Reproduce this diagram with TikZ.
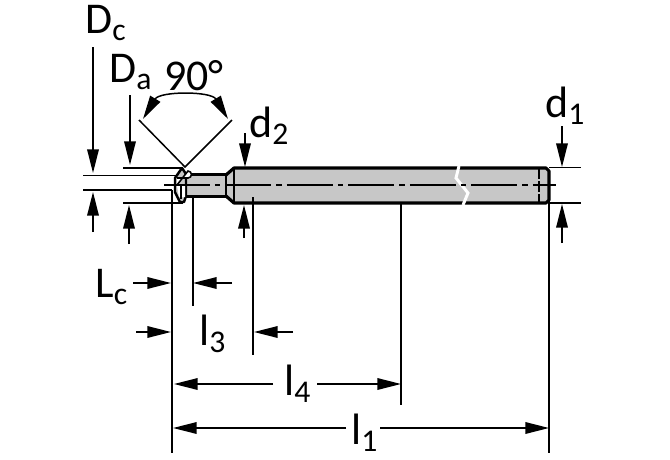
\documentclass[tikz,border=0pt]{standalone}
\usepackage{fontspec}
\setmainfont{Carlito}
\usetikzlibrary{arrows.meta}
\newcommand{\dimsub}[2]{#1\raisebox{-4pt}{\fontsize{18}{18}\selectfont #2}}
\tikzset{
    dimline/.style = {black, line width = 0.85pt},
    dimarrow/.style = {black, line width = 0.85pt, -{Triangle[length = 13.5pt, width = 6.6pt]}},
    outline/.style = {black, line width = 1.8pt, line join = round},
    dimlabel/.style = {font = \fontsize{25}{25}\selectfont, inner sep = 0pt, anchor = base west}
}
\begin{document}
\begin{tikzpicture}[x=0.02cm, y=-0.02cm]
            \useasboundingbox (0,0) rectangle (670,460);

            % shank and neck
            \fill[black!22] (183,175) -- (226,175) -- (234,168) -- (549,168) -- (549,203) -- (234,203) -- (226,196) -- (183,196) -- cycle;
            \draw[outline] (226,175) -- (234,168) -- (546,168) -- (549,171) -- (549,200) -- (546,203) -- (234,203) -- (226,196);
            \draw[outline, line width = 1.5pt] (185,174.5) -- (226,174.5) -- (226,196.5) -- (185,196.5);
            \draw[line width = 1.2pt] (234,168) -- (234,203);

            % break in the shank
            \draw[white, line width = 1.7pt] (459,166) -- (456,178) -- (468,193) -- (463,205);
            \draw[dimline, dash pattern = on 6pt off 1.5pt] (539,168) -- (539,204);

            % cutting head
            \draw[outline, line width = 1.4pt, fill = black!22] (182,168) -- (186,174) -- (186,196) -- (184,202) -- (180,202) -- (175,192) -- (175,178) -- cycle;
            \fill[white] (177,178) -- (188,178) arc (90:-90:3.5) -- (177,185) -- cycle;
            \draw[line width = 0.9pt] (177,178) -- (188,178) arc (90:-90:3.5) -- (177,185);
            \fill[white] (177,186) -- (185,186) -- (185,197) -- (179,197) -- cycle;
            \draw[line width = 0.9pt] (181,186) -- (181,199);

            % center line
            \draw[dimline, dash pattern = on 26pt off 3pt on 3pt off 3pt] (164,185) -- (556,185);

            % extension lines
            \foreach \xa/\ya/\xb/\yb in {83/175.5/176/175.5, 83/190/172/190, 123/168/183/168, 123/203/183/203,
                                         549/167.5/581/167.5, 549/203/581/203, 172/190/172/453, 193/196/193/306,
                                         253/197/253/355, 401/203/401/405, 549/200/549/453}{
                \draw[dimline] (\xa,\ya) -- (\xb,\yb);
            }

            % 90 degree angle
            \coordinate (apex) at (185,167);
            \coordinate (angleleft) at (139,120);
            \coordinate (angleright) at (232,120);
            \coordinate (arcleft) at (143,119);
            \coordinate (arcright) at (228,119);
            \draw[dimline] (angleleft) -- (apex) -- (angleright);
            \draw[dimline, {Triangle[length = 13.5pt, width = 6.6pt]}-{Triangle[length = 13.5pt, width = 6.6pt]}] (arcleft) .. controls (160,91) and (211,91) .. (arcright);

            % arrows pointing at the lines
            \foreach \xa/\ya/\xb/\yb in {93/47/93/173, 93/232/93/192, 130/95/130/165, 129/244/129/205,
                                         245/133/245/167, 244/238/244/205, 562/126/562/167, 562/243/562/204,
                                         133/283/171/283, 232/283/193/283, 136/332/171/332, 293/332/254/332}{
                \draw[dimarrow] (\xa,\ya) -- (\xb,\yb);
            }

            % labels
            \node[dimlabel] (Dc) at (85,33) {\dimsub{D}{c}};
            \node[dimlabel] (Da) at (109,82) {\dimsub{D}{a}};
            \node[dimlabel] (angle) at (164,90) {90°};
            \node[dimlabel] (dtwo) at (249,137) {\dimsub{d}{2}};
            \node[dimlabel] (done) at (545,117) {\dimsub{d}{1}};
            \node[dimlabel] (Lc) at (95,297) {\dimsub{L}{c}};
            \node[dimlabel] (lthree) at (199,345) {\dimsub{l}{3}};
            \node[dimlabel] (lfour) at (284,395) {\dimsub{l}{4}};
            \node[dimlabel] (lone) at (351,444) {\dimsub{l}{1}};

            \coordinate (lfourleft) at (174,384);
            \coordinate (lfourright) at (401,384);
            \coordinate (loneleft) at (173,428);
            \coordinate (loneright) at (549,428);
            \draw[dimarrow] (273,384) -- (lfourleft);
            \draw[dimarrow] (317,384) -- (lfourright);
            \draw[dimarrow] (346,428) -- (loneleft);
            \draw[dimarrow] (380,428) -- (loneright);
        \end{tikzpicture}
\end{document}
